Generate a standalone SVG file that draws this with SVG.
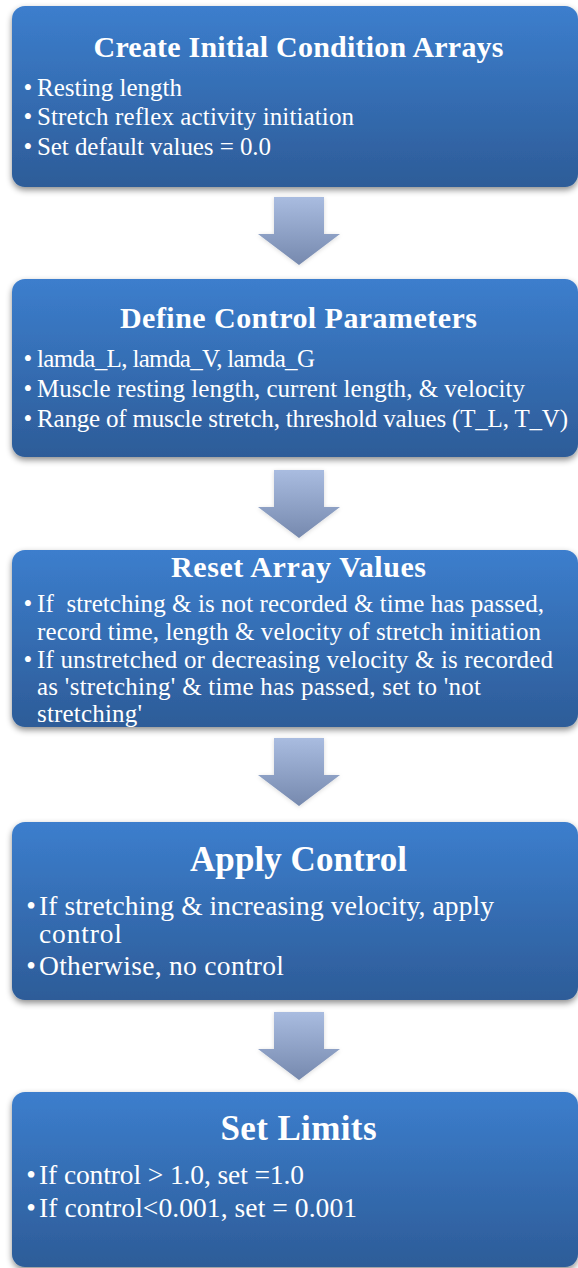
<svg xmlns="http://www.w3.org/2000/svg" width="578" height="1268" viewBox="0 0 578 1268">
<defs>
  <linearGradient id="boxGrad" x1="0" y1="0" x2="0" y2="1">
    <stop offset="0" stop-color="#3C7ECD"/>
    <stop offset="1" stop-color="#2D5C98"/>
  </linearGradient>
  <linearGradient id="arrGrad" x1="0" y1="0" x2="0" y2="1">
    <stop offset="0" stop-color="#A9BCE0"/>
    <stop offset="1" stop-color="#7689AE"/>
  </linearGradient>
  <filter id="shadow" x="-5%" y="-10%" width="110%" height="125%">
    <feDropShadow dx="0" dy="3" stdDeviation="3" flood-color="#000" flood-opacity="0.45"/>
  </filter>
  <filter id="ashadow" x="-20%" y="-20%" width="140%" height="140%">
    <feDropShadow dx="0" dy="1" stdDeviation="2" flood-color="#000" flood-opacity="0.15"/>
  </filter>
</defs>
<style>
  .box{fill:url(#boxGrad);filter:url(#shadow)}
  .title{font-family:"Liberation Serif","Times New Roman",serif;font-weight:bold;fill:#fff;text-anchor:middle}
  .t30{font-size:30px}
  .t35{font-size:35px}
  .b{font-family:"Liberation Serif","Times New Roman",serif;fill:#fff;font-size:25px}
  .b2{font-size:27.5px}
  .dot{text-anchor:middle}
  .arrow{fill:url(#arrGrad);filter:url(#ashadow)}
</style>

<g id="connectors">
  <path class="arrow" d="M274,197 H324 V234 H340 L299,265 L258,234 H274 Z"/>
  <path class="arrow" d="M274,470 H324 V507 H340 L299,538 L258,507 H274 Z"/>
  <path class="arrow" d="M274,738 H324 V775 H340 L299,806 L258,775 H274 Z"/>
  <path class="arrow" d="M274,1012 H324 V1049 H340 L299,1080 L258,1049 H274 Z"/>
</g>

<g id="node-create">
  <rect class="box" x="12" y="6" width="566" height="181" rx="13"/>
  <text class="title t30" x="298.5" y="57" textLength="410">Create Initial Condition Arrays</text>
  <text class="b dot" x="28" y="96">•</text>
  <text class="b" x="37" y="96" textLength="145">Resting length</text>
  <text class="b dot" x="28" y="125">•</text>
  <text class="b" x="37" y="125" textLength="317">Stretch reflex activity initiation</text>
  <text class="b dot" x="28" y="155">•</text>
  <text class="b" x="37" y="155" textLength="234">Set default values = 0.0</text>
</g>

<g id="node-define">
  <rect class="box" x="12" y="279" width="566" height="178" rx="13"/>
  <text class="title t30" x="298.5" y="328" textLength="357">Define Control Parameters</text>
  <text class="b dot" x="28" y="367">•</text>
  <text class="b" x="37" y="367" textLength="278">lamda_L, lamda_V, lamda_G</text>
  <text class="b dot" x="28" y="397">•</text>
  <text class="b" x="37" y="397" textLength="488">Muscle resting length, current length, &amp; velocity</text>
  <text class="b dot" x="28" y="427">•</text>
  <text class="b" x="37" y="427" textLength="531">Range of muscle stretch, threshold values (T_L, T_V)</text>
</g>

<g id="node-reset">
  <rect class="box" x="12" y="550" width="566" height="177" rx="13"/>
  <text class="title t30" x="298.5" y="577" textLength="255">Reset Array Values</text>
  <text class="b dot" x="28" y="612">•</text>
  <text class="b" x="37" y="612" textLength="507" xml:space="preserve">If  stretching &amp; is not recorded &amp; time has passed,</text>
  <text class="b" x="37" y="640" textLength="504">record time, length &amp; velocity of stretch initiation</text>
  <text class="b dot" x="28" y="668">•</text>
  <text class="b" x="37" y="668" textLength="516">If unstretched or decreasing velocity &amp; is recorded</text>
  <text class="b" x="37" y="695" textLength="444">as 'stretching' &amp; time has passed, set to 'not</text>
  <text class="b" x="37" y="722" textLength="105">stretching'</text>
</g>

<g id="node-apply">
  <rect class="box" x="12" y="822" width="566" height="178" rx="13"/>
  <text class="title t35" x="298.5" y="871" textLength="217">Apply Control</text>
  <text class="b b2 dot" x="31" y="915">•</text>
  <text class="b b2" x="39" y="915" textLength="455">If stretching &amp; increasing velocity, apply</text>
  <text class="b b2" x="39" y="943" textLength="83">control</text>
  <text class="b b2 dot" x="31" y="975">•</text>
  <text class="b b2" x="39" y="975" textLength="245">Otherwise, no control</text>
</g>

<g id="node-limits">
  <rect class="box" x="12" y="1092" width="566" height="175" rx="13"/>
  <text class="title t35" x="298.5" y="1140" textLength="156">Set Limits</text>
  <text class="b b2 dot" x="31" y="1184">•</text>
  <text class="b b2" x="39" y="1184" textLength="265">If control &gt; 1.0, set =1.0</text>
  <text class="b b2 dot" x="31" y="1217">•</text>
  <text class="b b2" x="39" y="1217" textLength="318">If control&lt;0.001, set = 0.001</text>
</g>
</svg>
